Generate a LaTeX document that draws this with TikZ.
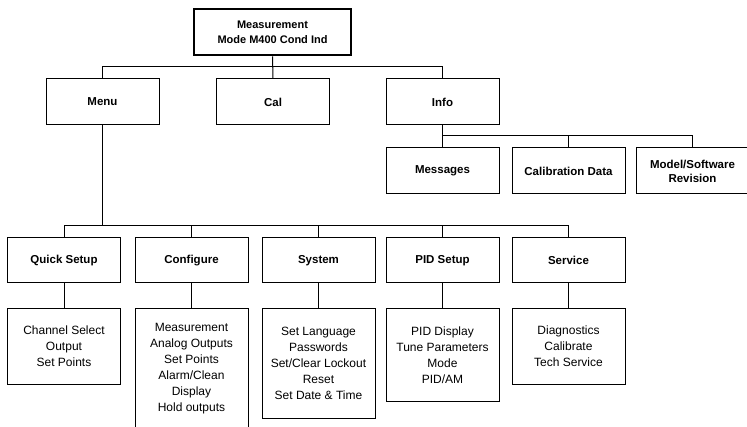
\documentclass[tikz,border=0pt]{standalone}
\usepackage{fontspec}
\setmainfont{Liberation Sans}
\usepackage{tikz}

\tikzset{
  menubox/.style={draw, line width=1pt, minimum width=113pt, minimum height=46pt, inner sep=2pt, font=\fontsize{11.5}{14}\selectfont\bfseries, align=center},
  rootbox/.style={menubox, line width=2.6pt, minimum width=157pt, minimum height=46pt, font=\fontsize{11}{15}\selectfont\bfseries},
  listbox/.style={draw, line width=1pt, minimum width=113pt, anchor=north, inner sep=2pt, font=\fontsize{12}{16}\selectfont, align=center},
  wire/.style={line width=1pt}
}

\begin{document}
\begin{tikzpicture}[x=1pt,y=1pt,yscale=-1,xscale=1]
\useasboundingbox (0,0) rectangle (747,427);

% Root
\node [rootbox] (root) at (272.5,32) {Measurement\\Mode M400 Cond Ind};

% First level
\node [menubox] (menu) at (102.5,102) {Menu};
\node [menubox] (cal) at (273,102) {Cal};
\node [menubox] (info) at (442.5,102) {Info};

% Info entries
\node [menubox] (messages) at (442.5,171) {Messages};
\node [menubox] (caldata) at (568.5,171) {Calibration Data};
\node [menubox] (model) at (692.5,171) {Model/Software\\Revision};

% Menu entries
\node [menubox, minimum height=45pt] (quick) at (64,260.5) {Quick Setup};
\node [menubox, minimum height=45pt] (configure) at (191.5,260.5) {Configure};
\node [menubox, minimum height=45pt] (system) at (318.5,260.5) {System};
\node [menubox, minimum height=45pt] (pid) at (442.5,260.5) {PID Setup};
\node [menubox, minimum height=45pt] (service) at (568.5,260.5) {Service};

% Lists
\node [listbox, minimum height=76pt] (quicklist) at (64,308) {Channel Select\\Output\\Set Points};
\node [listbox, minimum height=120pt] (configlist) at (191.5,308) {Measurement\\Analog Outputs\\Set Points\\Alarm/Clean\\Display\\Hold outputs};
\node [listbox, minimum height=110pt] (systemlist) at (318.5,308) {Set Language\\Passwords\\Set/Clear Lockout\\Reset\\Set Date \& Time};
\node [listbox, minimum height=93pt] (pidlist) at (442.5,308) {PID Display\\Tune Parameters\\Mode\\PID/AM};
\node [listbox, minimum height=76pt] (servicelist) at (568.5,308) {Diagnostics\\Calibrate\\Tech Service};

%Straight Lines
\draw [wire] (root.south) -- (cal.north);
\draw [wire] (menu.north) -- ++(0,-12) -| (info.north);
\draw [wire] (info.south) -- (messages.north);
\draw [wire] (messages.north) ++(0,-12) -| (model.north);
\draw [wire] (caldata.north) -- ++(0,-12);
\draw [wire] (menu.south) |- ([yshift=-12pt]quick.north) -- (quick.north);
\draw [wire] (quick.north) ++(0,-12) -| (service.north);
\draw [wire] (configure.north) -- ++(0,-12);
\draw [wire] (system.north) -- ++(0,-12);
\draw [wire] (pid.north) -- ++(0,-12);

\draw [wire] (quick.south) -- (quicklist.north);
\draw [wire] (configure.south) -- (configlist.north);
\draw [wire] (system.south) -- (systemlist.north);
\draw [wire] (pid.south) -- (pidlist.north);
\draw [wire] (service.south) -- (servicelist.north);

\end{tikzpicture}
\end{document}
